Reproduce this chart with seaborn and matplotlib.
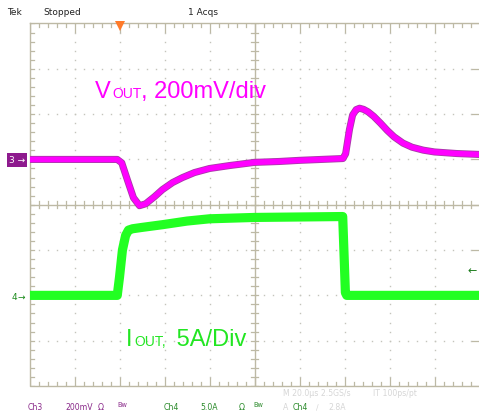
import numpy as np
import matplotlib
matplotlib.use("Agg")
import matplotlib.pyplot as plt
import matplotlib.patheffects as pe
import seaborn as sns

# ---------------- data ----------------
# Ch3: output voltage deviation (mV), 200 mV/div
vout_t_us = [-40, -1, 1, 3.6, 6.2, 8.9, 11.6, 15.6, 19.1, 23.6, 28, 33.3, 40, 48.9,
             60, 71, 80, 99.3, 100.5, 102.2, 103.6, 105.2, 106.7, 108.5, 110.5,
             113, 116, 119, 122, 126, 130, 135, 140, 150, 160]
vout_mv = [0, 0, -15, -93, -169, -204, -196, -164, -133, -102, -80, -58, -40, -27,
           -13, -9, -4, 4, 25, 132, 196, 220, 226, 221, 210,
           190, 160, 128, 100, 72, 54, 41, 33, 26, 22]
# Ch4: output current (A), 5 A/div
iout_t_us = [-40, -1, 0, 1.3, 2.7, 4.0, 5.8, 10, 19.1, 30, 40, 60, 80, 99.2, 99.8,
             100.4, 101, 160]
iout_a = [0, 0, 2.0, 5.0, 6.6, 7.2, 7.35, 7.5, 7.8, 8.2, 8.45, 8.6, 8.65, 8.7, 4.5,
          0.3, 0, 0]

ch3_scale_mv = 200.0
ch4_scale_a = 5.0
ch3_offset_div = 1.0
ch4_offset_div = -2.0
trig_level_a = 2.8

header = ["Tek", "Stopped", "1 Acqs"]
vlabel = ["V", "OUT", ", 200mV/div"]
ilabel = ["I", "OUT,", " 5A/Div"]

# ---------------- figure ----------------
W, H = 479, 411
fig = plt.figure(figsize=(W / 100, H / 100), dpi=100)
fig.patch.set_facecolor("white")

left_px, right_px, top_px, bot_px = 29.5, 479.5, 23.5, 386.0
ax = fig.add_axes([left_px / W, 1 - bot_px / H, (right_px - left_px) / W, (bot_px - top_px) / H])
ax.set_xlim(-40, 160)
ax.set_ylim(-4, 4)
ax.axis("off")

px_per_us = (right_px - left_px) / 200.0
px_per_div = (bot_px - top_px) / 8.0
dx = lambda p: p / px_per_us   # px -> us
dy = lambda p: p / px_per_div  # px -> div

frame_c = "#bdb9a5"
dot_c = "#c4c4bc"

# dotted major grid
minor_x = np.arange(-40, 160.01, 4)
minor_y = np.arange(-4, 4.01, 0.2)
for xv in np.arange(-20, 160, 20):
    if abs(xv - 60) < 1e-6:
        continue
    ax.plot(np.full_like(minor_y, xv), minor_y, ls="none", marker="s", ms=1.0,
            mew=0, color=dot_c, zorder=1)
for yv in np.arange(-3, 4, 1):
    if yv == 0:
        continue
    ax.plot(minor_x, np.full_like(minor_x, yv), ls="none", marker="s", ms=1.0,
            mew=0, color=dot_c, zorder=1)

# frame
ax.plot([-40, 160, 160, -40, -40], [4, 4, -4, -4, 4], color=frame_c, lw=1.0,
        zorder=2, clip_on=False)
# center lines
ax.axvline(60, color=frame_c, lw=1.0, zorder=2)
ax.axhline(0, color=frame_c, lw=1.0, zorder=2)
# ticks
for xv in minor_x:
    major = abs((xv + 40) % 20) < 1e-6
    L = dy(8.5 if major else 4)
    ax.plot([xv, xv], [4, 4 - L], color=frame_c, lw=0.9, zorder=2)
    ax.plot([xv, xv], [-4, -4 + L], color=frame_c, lw=0.9, zorder=2)
    ax.plot([xv, xv], [-dy(3.5), dy(3.5)], color=frame_c, lw=0.9, zorder=2)
for yv in minor_y:
    major = abs(yv - round(yv)) < 1e-6
    ax.plot([-40, -40 + dx(4)], [yv, yv], color=frame_c, lw=0.9, zorder=2)
    ax.plot([60 - dx(3.5), 60 + dx(3.5)], [yv, yv], color=frame_c, lw=0.9, zorder=2)
    if major:
        ax.plot([160 - dx(8), 160], [yv, yv], color=frame_c, lw=0.9, zorder=2)

# traces
vout_div = [ch3_offset_div + v / ch3_scale_mv for v in vout_mv]
iout_div = [ch4_offset_div + a / ch4_scale_a for a in iout_a]

sns.lineplot(x=iout_t_us, y=iout_div, ax=ax, color="#22ff22", linewidth=6.6,
             estimator=None, sort=False, zorder=4, legend=False,
             solid_capstyle="butt", solid_joinstyle="round")
sns.lineplot(x=vout_t_us, y=vout_div, ax=ax, color="#ff00ff", linewidth=3.9,
             estimator=None, sort=False, zorder=5, legend=False,
             solid_capstyle="butt", solid_joinstyle="round",
             path_effects=[pe.Stroke(linewidth=5.1, foreground="#a83aa8"), pe.Normal()])
ax.set_xlim(-40, 160)
ax.set_ylim(-4, 4)
ax.axis("off")

# trigger position marker (top)
ax.plot([0], [4 - dy(3)], marker="v", ms=7, color="#ff7a2a", mew=0, clip_on=False, zorder=6)

def ftxt(x, y, s, **kw):
    return fig.text(x / W, 1 - y / H, s, **kw)

# header
hf = dict(fontsize=6.5, color="#222222", family="DejaVu Sans", va="baseline")
ftxt(7, 15, header[0], **hf)
ftxt(43, 15, header[1], **hf)
ftxt(188, 15, header[2], **hf)

# channel markers
ftxt(9, 162.5, "3 \u2192", fontsize=6.5, color="white", va="baseline",
     bbox=dict(boxstyle="square,pad=0.25", fc="#8e1a8e", ec="none"))
ftxt(12, 299.5, "4", fontsize=6.5, color="#1a8a1a", va="baseline")
ftxt(18, 299.5, "\u2192", fontsize=6.5, color="#1a8a1a", va="baseline")
ftxt(468, 274, "\u2190", fontsize=8, color="#1a7a1a", va="baseline")

# big labels
lf = dict(family="Liberation Sans", va="baseline")
ftxt(95, 98, vlabel[0], fontsize=17, color="#ff00ff", **lf)
ftxt(112.5, 98, vlabel[1], fontsize=10, color="#ff00ff", **lf)
ftxt(141, 98, vlabel[2], fontsize=17, color="#ff00ff", **lf)
ftxt(126, 346, ilabel[0], fontsize=17, color="#22e622", **lf)
ftxt(134, 346, ilabel[1], fontsize=10, color="#22e622", **lf)
ftxt(170, 346, ilabel[2], fontsize=17, color="#22e622", **lf)

# footer
ff = dict(fontsize=5.6, family="DejaVu Sans", va="baseline")
sf = dict(fontsize=4.8, family="DejaVu Sans", va="baseline")
pur, grn, gry = "#8a2a8a", "#2a8a2a", "#d6d6d6"
ftxt(28, 410, "Ch3", color=pur, **ff)
ftxt(65, 410, "200mV", color=pur, **ff)
ftxt(98, 410, "\u03a9", color=pur, **ff)
ftxt(117, 407, "Bw", color=pur, **sf)
ftxt(164, 410, "Ch4", color=grn, **ff)
ftxt(200, 410, "5.0A", color=grn, **ff)
ftxt(239, 410, "\u03a9", color=grn, **ff)
ftxt(253, 407, "Bw", color=grn, **sf)
ftxt(283, 410, "A", color=gry, **ff)
ftxt(293, 410, "Ch4", color=grn, **ff)
ftxt(316, 410, "\u2215", color=gry, **ff)
ftxt(328, 410, "2.8A", color=gry, **ff)
ftxt(283, 396, "M 20.0\u00b5s 2.5GS/s", color=gry, **ff)
ftxt(373, 396, "IT 100ps/pt", color=gry, **ff)

fig.savefig("out.png", dpi=100, facecolor="white")
